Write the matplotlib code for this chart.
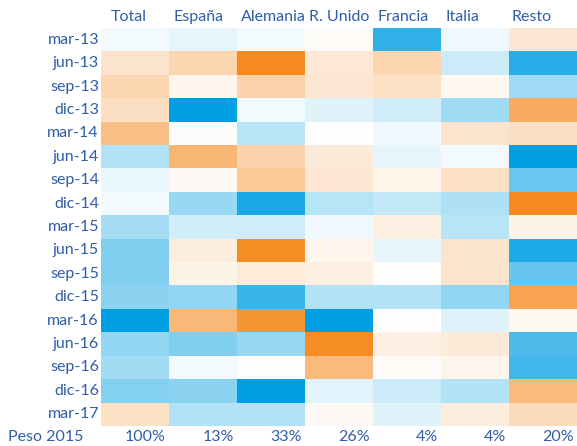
import numpy as np
import matplotlib
matplotlib.use("Agg")
import matplotlib.pyplot as plt
from matplotlib.colors import LinearSegmentedColormap
from matplotlib.patches import Rectangle

# Trimestres (filas) y regiones (columnas)
periodos = ["mar-13", "jun-13", "sep-13", "dic-13", "mar-14", "jun-14", "sep-14", "dic-14",
            "mar-15", "jun-15", "sep-15", "dic-15", "mar-16", "jun-16", "sep-16", "dic-16", "mar-17"]
regiones = ["Total", "España", "Alemania", "R. Unido", "Francia", "Italia", "Resto"]
peso_2015 = ["100%", "13%", "33%", "26%", "4%", "4%", "20%"]

total    = [-0.05, 0.22, 0.35, 0.27, 0.55, -0.30, -0.08, -0.04, -0.35, -0.50, -0.50, -0.45, -1.00, -0.42, -0.36, -0.48, 0.25]
espana   = [-0.10, 0.35, 0.08, -1.00, 0.02, 0.62, 0.04, -0.40, -0.18, 0.15, 0.10, -0.42, 0.60, -0.50, -0.04, -0.45, -0.30]
alemania = [-0.05, 1.00, 0.38, -0.04, -0.27, 0.36, 0.45, -0.90, -0.18, 0.97, 0.16, -0.78, 0.90, -0.40, 0.01, -1.00, -0.30]
r_unido  = [0.03, 0.18, 0.20, -0.12, 0.00, 0.17, 0.20, -0.28, -0.06, 0.08, 0.12, -0.30, -1.00, 0.97, 0.58, -0.11, 0.04]
francia  = [-0.80, 0.35, 0.25, -0.18, -0.06, -0.10, 0.09, -0.23, 0.13, -0.09, 0.01, -0.30, 0.00, 0.13, 0.03, -0.20, -0.12]
italia   = [-0.07, -0.20, 0.06, -0.37, 0.22, -0.04, 0.25, -0.32, -0.28, 0.22, 0.23, -0.42, -0.12, 0.17, 0.08, -0.30, 0.15]
resto    = [0.20, -0.85, -0.38, 0.70, 0.27, -1.00, -0.58, 1.00, 0.10, -0.88, -0.60, 0.78, 0.05, -0.70, -0.75, 0.58, 0.30]

data = np.array([total, espana, alemania, r_unido, francia, italia, resto]).T

cmap = LinearSegmentedColormap.from_list("azul_naranja", ["#009FE3", "#FFFFFF", "#F58A1F"])
txt_color = "#2F5DA8"
fuente = "Lato"
fs = 11.5

fig = plt.figure(figsize=(5.77, 4.46), dpi=100)
ax = fig.add_axes([101 / 577, 1 - 426 / 446, 476 / 577, 398 / 446])
ax.imshow(data, cmap=cmap, vmin=-1, vmax=1, aspect="auto", interpolation="nearest",
          extent=(-0.5, len(regiones) - 0.5, len(periodos) - 0.5, -0.5))
ax.set_xlim(-0.5, len(regiones) - 0.5)
ax.set_ylim(len(periodos) - 0.5, -0.5)
ax.axis("off")

# Etiquetas de filas
for i, p in enumerate(periodos):
    ax.text(-0.53, i, p, ha="right", va="center", fontsize=fs, color=txt_color, family=fuente)

# Cabeceras (recortadas al ancho de su celda, como en Excel)
offsets = [0.15, 0.06, 0.06, 0.06, 0.06, 0.06, 0.04]
for j, r in enumerate(regiones):
    t = ax.text(j - 0.5 + offsets[j], -0.95, r, ha="left", va="center", fontsize=fs,
                color=txt_color, family=fuente, clip_on=True)
    t.set_clip_path(Rectangle((j - 0.5, -2), 1.0, 2.0, transform=ax.transData))

# Fila de pesos
ax.text(-1.31, len(periodos) - 0.02, "Peso 2015", ha="center", va="center", fontsize=fs,
        color=txt_color, family=fuente)
for j, w in enumerate(peso_2015):
    ax.text(j + 0.45, len(periodos) - 0.02, w, ha="right", va="center", fontsize=fs,
            color=txt_color, family=fuente)

fig.savefig("out.png", dpi=100)
